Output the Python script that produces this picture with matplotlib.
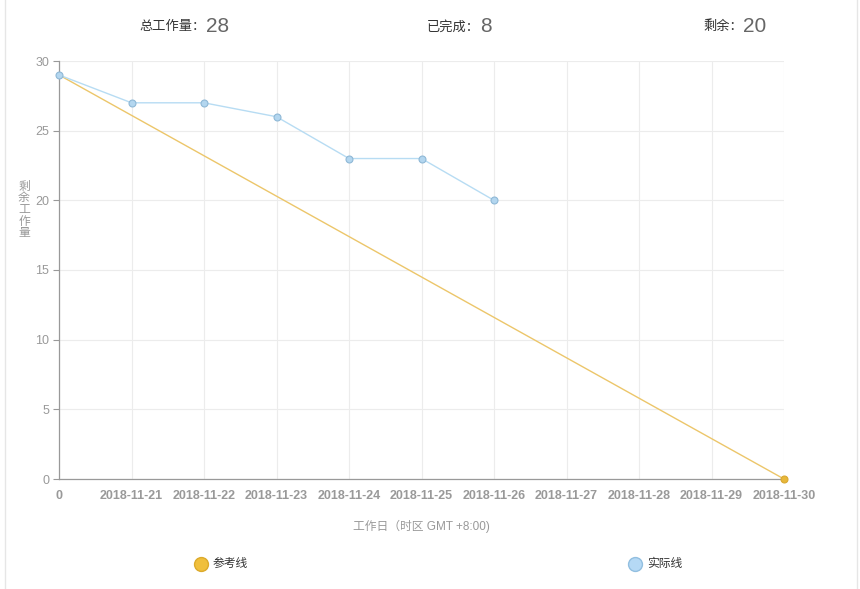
import matplotlib
matplotlib.use("Agg")
import matplotlib.pyplot as plt
from matplotlib.patches import Rectangle
from matplotlib.lines import Line2D

plt.rcParams['font.family'] = ['Liberation Sans', 'Noto Sans CJK SC', 'DejaVu Sans']

categories = ["0", "2018-11-21", "2018-11-22", "2018-11-23", "2018-11-24", "2018-11-25",
              "2018-11-26", "2018-11-27", "2018-11-28", "2018-11-29", "2018-11-30"]
reference_values = [29, None, None, None, None, None, None, None, None, None, 0]
actual_values = [29, 27, 27, 26, 23, 23, 20]
y_ticks = [0, 5, 10, 15, 20, 25, 30]
total_work = 28
done_work = 8
remaining_work = 20

W, H = 860, 589
fig = plt.figure(figsize=(W / 100, H / 100), dpi=100)
fig.patch.set_facecolor("white")

# card border
fig.add_artist(Rectangle((5 / W, -0.01), (W - 8) / W, 1.02, transform=fig.transFigure,
                         fill=False, edgecolor="#e6e6e6", linewidth=1))

left, right, top, bottom = 59, 784, 61, 479
ax = fig.add_axes([left / W, (H - bottom) / H, (right - left) / W, (bottom - top) / H])

x = list(range(len(categories)))
ref_x = [i for i, v in enumerate(reference_values) if v is not None]
ref_y = [v for v in reference_values if v is not None]
ax.plot(ref_x, ref_y, color="#ecc66a", linewidth=1.0, zorder=3, clip_on=False)
ax.plot(ref_x[-1:], ref_y[-1:], 'o', markersize=5, markerfacecolor="#e8b83a",
        markeredgecolor="#d9a830", markeredgewidth=0.8, zorder=4, clip_on=False)

ax.plot(x[:len(actual_values)], actual_values, color="#b7dcf3", linewidth=1.0, zorder=3, clip_on=False)
ax.plot(x[:len(actual_values)], actual_values, 'o', markersize=5, markerfacecolor="#b3d6ef",
        markeredgecolor="#8fb8d6", markeredgewidth=0.8, zorder=4, clip_on=False)

ax.set_xlim(0, len(categories) - 1)
ax.set_ylim(0, 30)
ax.set_xticks(x)
ax.set_xticklabels(categories, color="#999999", fontsize=9, fontweight="bold")
ax.set_yticks(y_ticks)
ax.set_yticklabels([str(v) for v in y_ticks], color="#999999", fontsize=9)
ax.tick_params(axis='x', length=0, pad=8)
ax.tick_params(axis='y', length=4, color="#999999", pad=3)
ax.grid(True, color="#ececec", linewidth=0.8, zorder=0)
ax.set_axisbelow(True)
for s in ["top", "right"]:
    ax.spines[s].set_visible(False)
for s in ["left", "bottom"]:
    ax.spines[s].set_color("#999999")
    ax.spines[s].set_linewidth(0.9)

# header
def header(xc, label, num):
    fig.text(xc / W, 1 - 27 / H, label, ha="right", va="center", fontsize=9.5, color="#333333")
    fig.text(xc / W, 1 - 26 / H, str(num), ha="left", va="center", fontsize=15, color="#666666")

header(206, "总工作量：", total_work)
header(480, "已完成：", done_work)
header(743, "剩余：", remaining_work)

# y label (vertical stacked)
fig.text(24 / W, 1 - 210 / H, "剩\n余\n工\n作\n量", ha="center", va="center",
         fontsize=8.5, color="#999999", linespacing=0.95)

# x label
fig.text(421 / W, 1 - 526 / H, "工作日（时区 GMT +8:00)", ha="center", va="center",
         fontsize=8.5, color="#999999")

# legend
fig.add_artist(Line2D([201 / W], [1 - 564 / H], transform=fig.transFigure, marker='o',
                      markersize=10, markerfacecolor="#f0bf3c", markeredgecolor="#dcaa2c", linestyle="none"))
fig.text(213 / W, 1 - 564 / H, "参考线", ha="left", va="center", fontsize=8.5, color="#333333")
fig.add_artist(Line2D([635 / W], [1 - 564 / H], transform=fig.transFigure, marker='o',
                      markersize=10, markerfacecolor="#b5d9f5", markeredgecolor="#92bfe0", linestyle="none"))
fig.text(647 / W, 1 - 564 / H, "实际线", ha="left", va="center", fontsize=8.5, color="#333333")

fig.savefig("out.png", dpi=100)
